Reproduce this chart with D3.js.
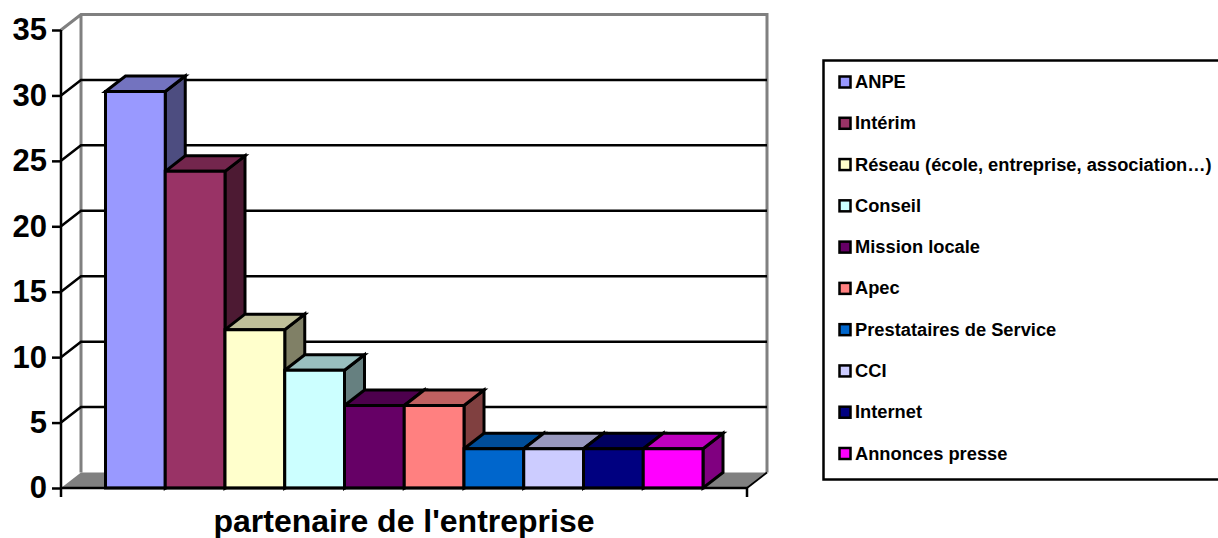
<!DOCTYPE html>
<html><head><meta charset="utf-8">
<script src="https://cdn.jsdelivr.net/npm/d3@7"></script>
<style>html,body{margin:0;padding:0;background:#fff}svg{display:block}text{font-family:"Liberation Sans",Arial,sans-serif;font-weight:bold;fill:#000}</style>
</head><body><svg id="c" width="1218" height="538"></svg>
<script>
const categories=["ANPE","Intérim","Réseau (école, entreprise, association…)","Conseil","Mission locale","Apec","Prestataires de Service","CCI","Internet","Annonces presse"];
const values=[30.3,24.2,12.1,9,6.3,6.3,3,3,3,3];
const colors=["#9999ff","#993366","#ffffcc","#ccffff","#660066","#ff8080","#0066cc","#ccccff","#000080","#ff00ff"];
const tickValues=[0,5,10,15,20,25,30,35];
const axisTitle="partenaire de l'entreprise";

const svg=d3.select("#c");
const y=d3.scaleLinear().domain([0,35]).range([488,30]);
const x=d3.scaleBand().domain(categories).range([105.5,703]).padding(0);
const dx=20,dy=15.5;
const X0=61,X1=747;
const poly=(p,fill,sw,stroke)=>svg.append("polygon").attr("points",p.map(d=>d.join(",")).join(" ")).attr("fill",fill).attr("stroke",stroke||"#000").attr("stroke-width",sw).attr("stroke-linejoin","miter");

poly([[X0,y(0)],[X0+dx,y(0)-dy],[X1+dx,y(0)-dy],[X1,y(0)]],"#808080",0);
svg.append("path").attr("fill","none").attr("stroke","#808080").attr("stroke-width",3)
  .attr("d",`M${X0},${y(35)}L${X0+dx},${y(35)-dy}L${X1+dx},${y(35)-dy}L${X1+dx},${y(0)-dy}M${X0+dx},${y(35)-dy}L${X0+dx},${y(0)-dy}`);
tickValues.slice(1,-1).forEach(t=>{
  svg.append("path").attr("fill","none").attr("stroke","#000").attr("stroke-width",2.5)
    .attr("d",`M${X0},${y(t)}L${X0+dx},${y(t)-dy}L${X1+dx},${y(t)-dy}`);
});
svg.append("path").attr("fill","none").attr("stroke","#000").attr("stroke-width",1.8)
  .attr("d",`M${X1},${y(0)}L${X1+dx},${y(0)-dy}`);
const mul=(c,k)=>{const r=d3.rgb(c);return d3.rgb(r.r*k,r.g*k,r.b*k).formatHex();};
categories.forEach((c,i)=>{
  const l=x(c),r=l+x.bandwidth(),t=y(values[i]),b=y(0);
  poly([[r,t],[r+dx,t-dy],[r+dx,b-dy],[r,b]],mul(colors[i],0.5),3);
  poly([[l,t],[l+dx,t-dy],[r+dx,t-dy],[r,t]],mul(colors[i],0.75),3);
});
categories.forEach((c,i)=>{
  const l=x(c),r=l+x.bandwidth(),t=y(values[i]),b=y(0);
  poly([[l,t],[r,t],[r,b],[l,b]],colors[i],3);
});
const axL=d3.axisLeft(y).tickValues(tickValues).tickSize(9).tickPadding(5);
const gL=svg.append("g").attr("transform",`translate(${X0},0)`).call(axL);
gL.selectAll("path,line").attr("stroke","#000").attr("stroke-width",2.5);
gL.select("path").attr("d",`M0,${y(35)}V${y(0)+9}`);
gL.selectAll("text").attr("font-size",31).attr("font-family",'"Liberation Sans"').attr("font-weight","bold");
svg.append("path").attr("fill","none").attr("stroke","#000").attr("stroke-width",2.5)
  .attr("d",`M${X0},${y(0)}H${X1}V${y(0)+9}`);
svg.append("text").attr("x",404).attr("y",532).attr("text-anchor","middle").attr("font-size",32).text(axisTitle);
svg.append("rect").attr("x",823.5).attr("y",60.5).attr("width",396).attr("height",419).attr("fill","#fff").attr("stroke","#000").attr("stroke-width",2.5);
const ly=d3.scalePoint().domain(categories).range([82,453.5]);
categories.forEach((c,i)=>{
  svg.append("rect").attr("x",839.5).attr("y",ly(c)-5.5).attr("width",11).attr("height",11).attr("fill",colors[i]).attr("stroke","#000").attr("stroke-width",2.5);
  svg.append("text").attr("x",855).attr("y",ly(c)+6).attr("font-size",18.3).text(c);
});
</script></body></html>
